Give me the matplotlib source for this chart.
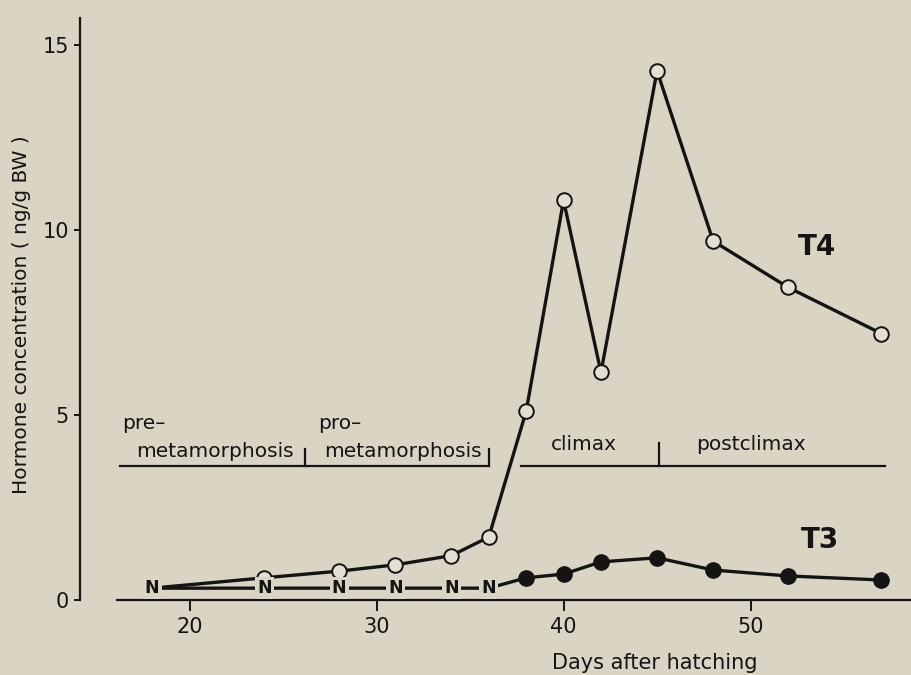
import matplotlib
matplotlib.use('Agg')
import matplotlib.pyplot as plt

plt.rcParams['font.family'] = ['DejaVu Sans']

# days after hatching
days = [18, 24, 28, 31, 34, 36, 38, 40, 42, 45, 48, 52, 57]

# T4 (open circles); first point is not detected (N)
t4 = [0.32, 0.6, 0.78, 0.95, 1.2, 1.7, 5.1, 10.8, 6.15, 14.3, 9.7, 8.45, 7.2]

# T3: not detected (N) up to day 36, then measured (filled circles)
t3_nd_days = [18, 24, 28, 31, 34, 36]
t3_nd_level = 0.32
t3_days = [38, 40, 42, 45, 48, 52, 57]
t3 = [0.6, 0.7, 1.03, 1.14, 0.81, 0.65, 0.54]

# stage bar
stage_y = 3.62
stage_segments = [(16.3, 36.0), (37.7, 57.2)]
stage_dividers = [(26.15, 0.45), (36.0, 0.45), (45.1, 0.62)]

bg = '#dad4c4'
ink = '#141414'

fig = plt.figure(figsize=(9.11, 6.75), dpi=100)
fig.patch.set_facecolor(bg)
ax = fig.add_axes([80 / 911, 75 / 675, 831 / 911, 588 / 675])
ax.set_facecolor(bg)
ax.set_xlim(14.14, 58.58)
ax.set_ylim(0, 15.89)

for s in ['top', 'right']:
    ax.spines[s].set_visible(False)
ax.spines['left'].set_bounds(0, 15.73)
ax.spines['bottom'].set_bounds(16.12, 58.58)
for s in ['left', 'bottom']:
    ax.spines[s].set_linewidth(1.6)
    ax.spines[s].set_color(ink)

ax.set_xticks([20, 30, 40, 50])
ax.set_yticks([0, 5, 10, 15])
ax.tick_params(axis='x', direction='out', length=8, width=1.4, pad=4,
               labelsize=15, colors=ink)
ax.tick_params(axis='y', direction='out', length=4, width=1.4, pad=4,
               labelsize=15, colors=ink)

# T4 line
ax.plot(days, t4, color=ink, lw=2.4, zorder=2)
ax.plot(days[1:], t4[1:], ls='none', marker='o', ms=10.5, mfc='#e4dfd2',
        mec=ink, mew=1.4, zorder=3)

# T3 line
ax.plot(t3_nd_days + t3_days, [t3_nd_level] * len(t3_nd_days) + t3,
        color=ink, lw=2.4, zorder=2)
ax.plot(t3_days, t3, ls='none', marker='o', ms=11, mfc=ink, mec=ink, zorder=3)

for d in t3_nd_days:
    ax.text(d, t3_nd_level, 'N', ha='center', va='center', fontsize=12.5,
            fontweight='bold', color=ink, zorder=4,
            bbox=dict(boxstyle='square,pad=0.12', fc=bg, ec='none'))

# stage bar
for a, b in stage_segments:
    ax.plot([a, b], [stage_y, stage_y], color=ink, lw=1.6)
for d, h in stage_dividers:
    ax.plot([d, d], [stage_y, stage_y + h], color=ink, lw=1.6)

ax.text(16.37, 4.62, 'pre–', fontsize=14.5, color=ink)
ax.text(17.15, 3.86, 'metamorphosis', fontsize=14.5, color=ink)
ax.text(26.85, 4.62, 'pro–', fontsize=14.5, color=ink)
ax.text(27.2, 3.86, 'metamorphosis', fontsize=14.5, color=ink)
ax.text(39.3, 4.05, 'climax', fontsize=14.5, color=ink)
ax.text(47.1, 4.05, 'postclimax', fontsize=14.5, color=ink)

ax.text(53.56, 9.54, 'T4', fontsize=20, fontweight='bold', ha='center',
        va='center', color=ink)
ax.text(53.72, 1.62, 'T3', fontsize=20, fontweight='bold', ha='center',
        va='center', color=ink)

fig.text(655 / 911, 1 - 663 / 675, 'Days after hatching', fontsize=15,
         ha='center', va='center', color=ink)
fig.text(22 / 911, 1 - 315 / 675, 'Hormone concentration ( ng/g BW )',
         fontsize=14.5, rotation=90, ha='center', va='center', color=ink)

fig.savefig('out.png', dpi=100, facecolor=bg)
